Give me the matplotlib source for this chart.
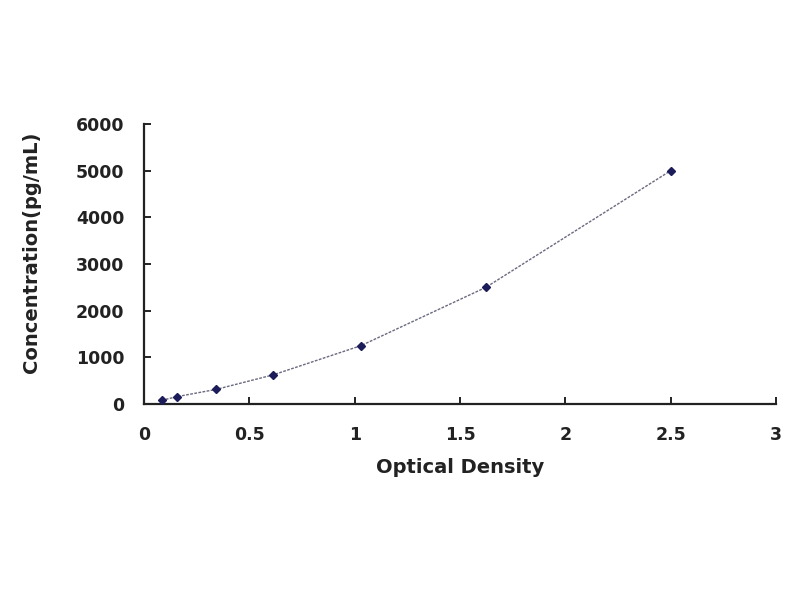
import matplotlib
matplotlib.use("Agg")
import matplotlib.pyplot as plt

# standard curve
od = [0.084, 0.155, 0.342, 0.614, 1.03, 1.623, 2.5]
conc = [78, 156, 312, 625, 1250, 2500, 5000]

x_ticks = [0, 0.5, 1, 1.5, 2, 2.5, 3]
x_labels = ["0", "0.5", "1", "1.5", "2", "2.5", "3"]
y_ticks = [0, 1000, 2000, 3000, 4000, 5000, 6000]

plt.rcParams["font.family"] = ["DejaVu Sans"]
plt.rcParams["font.weight"] = "bold"

fig = plt.figure(figsize=(8, 6), dpi=100)
ax = fig.add_axes([0.18, 0.3267, 0.79, 0.4666])

ax.plot(od, conc, color="#6a6a80", lw=1, ls=(0, (2, 1)), zorder=2)
ax.plot(od, conc, ls="none", marker="D", ms=4, color="#1c1c5a", zorder=3)

ax.set_xlim(0, 3)
ax.set_ylim(0, 6000)
ax.set_xticks(x_ticks)
ax.set_xticklabels(x_labels)
ax.set_yticks(y_ticks)

for side in ("top", "right"):
    ax.spines[side].set_visible(False)
for side in ("left", "bottom"):
    ax.spines[side].set_linewidth(1.6)
    ax.spines[side].set_color("#222222")

ax.tick_params(axis="both", direction="in", length=5, width=1.4, colors="#222222",
               labelsize=12.5)
ax.tick_params(axis="y", pad=14)
ax.tick_params(axis="x", pad=16)

ax.set_xlabel("Optical Density", fontsize=14, fontweight="bold", color="#222222", labelpad=10)
ax.set_ylabel("Concentration(pg/mL)", fontsize=14, fontweight="bold", color="#222222")
ax.yaxis.set_label_coords(-0.163, 0.54)

fig.savefig("out.png", dpi=100, facecolor="white")
